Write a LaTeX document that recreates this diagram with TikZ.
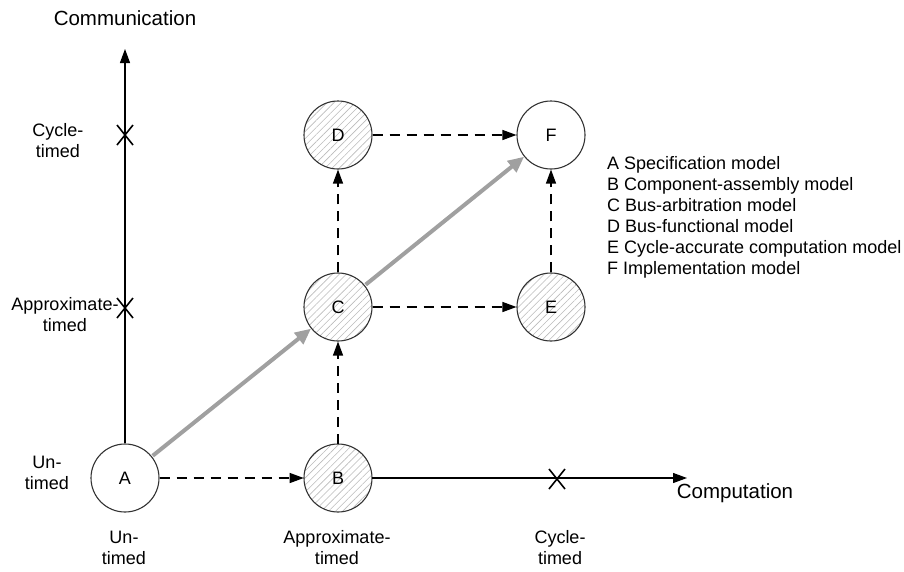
\documentclass[tikz,border=0pt]{standalone}
\usepackage{fontspec}
\setmainfont{Liberation Sans}
\usetikzlibrary{arrows.meta,patterns.meta}
\definecolor{edgegray}{HTML}{333333}
\definecolor{flowgray}{HTML}{A0A0A0}
\definecolor{hatchgray}{HTML}{BBBBBB}
\begin{document}
\begin{tikzpicture}[x=1pt,y=-1pt,
  model/.style={circle,draw=edgegray,line width=1.1pt,minimum size=68pt,inner sep=0pt,
     font=\fontsize{18}{21}\selectfont,fill=white},
  hatched/.style={model,fill=none,pattern={Lines[angle=45,distance=5pt,line width=0.6pt]},pattern color=hatchgray},
  axisline/.style={line width=1.2pt,-{Triangle[length=14pt,width=10pt]}},
  dashline/.style={line width=1.2pt,dash pattern=on 10pt off 7pt,-{Triangle[length=14pt,width=10pt]}},
  flowline/.style={line width=4pt,flowgray,-{Triangle[length=16pt,width=14pt]},shorten <=1pt},
  lbl/.style={font=\fontsize{18}{21}\selectfont,align=center,inner sep=0pt},
  axtitle/.style={font=\fontsize{20.5}{24}\selectfont,inner sep=0pt},
  legend/.style={font=\fontsize{18}{21}\selectfont,inner sep=0pt,anchor=base west},
  xmark/.style={line width=1.6pt}
]
\useasboundingbox (0,0) rectangle (904,571);

% nodes
\node[model]   (A) at (125,478) {A};
\node[hatched] (B) at (338,478) {B};
\node[hatched] (C) at (338,307) {C};
\node[hatched] (D) at (338,135) {D};
\node[hatched] (E) at (551,307) {E};
\node[model]   (F) at (551,135) {F};

% axes
\coordinate (ytip) at (125,49);
\coordinate (xtip) at (687,478);
\draw[axisline] (A.north) -- (ytip);
\draw[axisline] (B.east) -- (xtip);

% axis titles
\node[axtitle] (comm) at (125,18) {Communication};
\node[axtitle] (comp) at (735,493) {Computation};

% tick marks
\coordinate (x1) at (125,135);
\coordinate (x2) at (125,308);
\coordinate (x3) at (557,479);
\foreach \c in {x1,x2,x3}{
  \draw[xmark] ([shift={(-8,-10)}]\c) -- ([shift={(8,10)}]\c);
  \draw[xmark] ([shift={(-8,10)}]\c) -- ([shift={(8,-10)}]\c);
}

% axis labels
\node[lbl] (lc) at (58,140.5) {Cycle-\\timed};
\node[lbl] (la) at (65,314.5) {Approximate-\\timed};
\node[lbl] (lu) at (47,472.5) {Un-\\timed};
\node[lbl] (bu) at (124,547.5) {Un-\\timed};
\node[lbl] (ba) at (337,547.5) {Approximate-\\timed};
\node[lbl] (bc) at (560,548) {Cycle-\\timed};

% dashed transitions
\draw[dashline] (A) -- (B);
\draw[dashline] (B) -- (C);
\draw[dashline] (C) -- (D);
\draw[dashline] (C) -- (E);
\draw[dashline] (D) -- (F);
\draw[dashline] (E) -- (F);

% gray path
\draw[flowline] (A) -- (C);
\draw[flowline] (C) -- (F);

% legend
\node[legend] (l1) at (607,169.5) {A Specification model};
\node[legend] (l2) at (607,190.5) {B Component-assembly model};
\node[legend] (l3) at (607,211.5) {C Bus-arbitration model};
\node[legend] (l4) at (607,232.5) {D Bus-functional model};
\node[legend] (l5) at (607,253.5) {E Cycle-accurate computation model};
\node[legend] (l6) at (607,274.5) {F Implementation model};
\end{tikzpicture}
\end{document}
